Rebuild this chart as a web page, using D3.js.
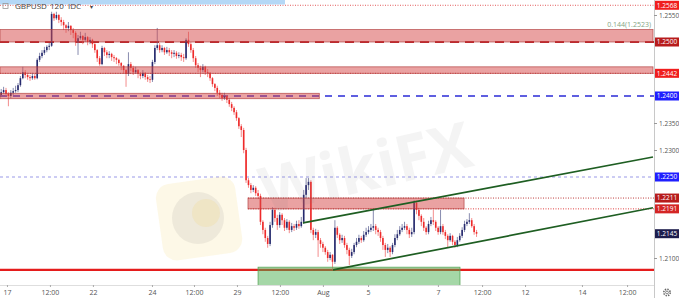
<!DOCTYPE html>
<html>
<head>
<meta charset="utf-8">
<script src="https://cdn.jsdelivr.net/npm/d3@7"></script>
<style>
  body { margin: 0; background: #fff; }
  svg { display: block; font-family: "Open Sans", "DejaVu Sans", sans-serif; }
</style>
</head>
<body>
<svg width="679" height="298"></svg>
<script>
// GBPUSD 120 (2h bars), prices
const firstOpen = 1.2402

const closes = [
  1.2407,1.2411,1.2404,1.2400,1.2406,1.2409,1.2411,1.2420,1.2433,1.2444,
  1.2439,1.2435,1.2433,1.2437,1.2433,1.2467,1.2474,1.2480,1.2485,1.2491,
  1.2493,1.2552,1.2544,1.2550,1.2541,1.2537,1.2531,1.2526,1.2530,1.2522,
  1.2517,1.2500,1.2507,1.2511,1.2504,1.2509,1.2500,1.2504,1.2496,1.2485,
  1.2470,1.2459,1.2489,1.2481,1.2476,1.2478,1.2472,1.2470,1.2467,1.2461,
  1.2456,1.2448,1.2441,1.2459,1.2452,1.2444,1.2448,1.2441,1.2437,1.2443,
  1.2435,1.2431,1.2430,1.2463,1.2489,1.2494,1.2485,1.2489,1.2481,1.2485,
  1.2481,1.2478,1.2480,1.2474,1.2476,1.2472,1.2470,1.2504,1.2496,1.2485,
  1.2470,1.2457,1.2452,1.2448,1.2454,1.2444,1.2443,1.2433,1.2422,1.2415,
  1.2406,1.2402,1.2396,1.2400,1.2393,1.2385,1.2378,1.2370,1.2359,1.2344,
  1.2337,1.2300,1.2244,1.2235,1.2226,1.2230,1.2220,1.2215,1.2167,1.2152,
  1.2137,1.2126,1.2161,1.2189,1.2174,1.2161,1.2180,1.2170,1.2156,1.2167,
  1.2152,1.2159,1.2156,1.2163,1.2159,1.2167,1.2217,1.2235,1.2241,1.2152,
  1.2143,1.2148,1.2133,1.2126,1.2119,1.2111,1.2100,1.2106,1.2093,1.2156,
  1.2143,1.2133,1.2137,1.2124,1.2115,1.2104,1.2111,1.2124,1.2130,1.2137,
  1.2133,1.2143,1.2148,1.2152,1.2156,1.2159,1.2152,1.2148,1.2137,1.2124,
  1.2115,1.2119,1.2111,1.2124,1.2137,1.2144,1.2152,1.2156,1.2159,1.2152,
  1.2144,1.2148,1.2202,1.2189,1.2178,1.2167,1.2156,1.2148,1.2163,1.2170,
  1.2167,1.2156,1.2148,1.2159,1.2148,1.2141,1.2133,1.2141,1.2130,1.2124,
  1.2133,1.2141,1.2152,1.2163,1.2167,1.2170,1.2159,1.2148,1.2145
]

const highs = [
  1.2413,1.2417,1.2415,1.2407,1.2411,1.2415,1.2419,1.2424,1.2437,1.2454,
  1.2448,1.2443,1.2439,1.2443,1.2441,1.2470,1.2480,1.2485,1.2491,1.2494,
  1.2498,1.2556,1.2554,1.2556,1.2552,1.2546,1.2541,1.2533,1.2537,1.2531,
  1.2526,1.2520,1.2513,1.2519,1.2513,1.2517,1.2511,1.2509,1.2506,1.2498,
  1.2487,1.2474,1.2493,1.2491,1.2485,1.2483,1.2480,1.2476,1.2472,1.2469,
  1.2463,1.2457,1.2450,1.2481,1.2463,1.2456,1.2454,1.2450,1.2444,1.2448,
  1.2444,1.2439,1.2437,1.2467,1.2494,1.2526,1.2498,1.2494,1.2491,1.2491,
  1.2489,1.2485,1.2485,1.2483,1.2481,1.2480,1.2478,1.2507,1.2519,1.2500,
  1.2489,1.2474,1.2461,1.2456,1.2459,1.2456,1.2450,1.2444,1.2435,1.2424,
  1.2419,1.2411,1.2406,1.2406,1.2402,1.2396,1.2389,1.2381,1.2374,1.2361,
  1.2348,1.2341,1.2304,1.2248,1.2239,1.2235,1.2233,1.2226,1.2219,1.2170,
  1.2156,1.2141,1.2167,1.2194,1.2193,1.2180,1.2185,1.2183,1.2174,1.2172,
  1.2170,1.2165,1.2163,1.2169,1.2170,1.2176,1.2226,1.2248,1.2248,1.2244,
  1.2156,1.2154,1.2152,1.2137,1.2130,1.2122,1.2115,1.2111,1.2107,1.2170,
  1.2159,1.2146,1.2143,1.2141,1.2128,1.2119,1.2117,1.2128,1.2137,1.2143,
  1.2141,1.2150,1.2156,1.2159,1.2163,1.2189,1.2163,1.2156,1.2152,1.2141,
  1.2128,1.2126,1.2122,1.2128,1.2144,1.2152,1.2159,1.2163,1.2167,1.2163,
  1.2156,1.2156,1.2207,1.2206,1.2193,1.2181,1.2174,1.2159,1.2169,1.2176,
  1.2189,1.2170,1.2159,1.2189,1.2163,1.2152,1.2144,1.2146,1.2143,1.2133,
  1.2139,1.2146,1.2157,1.2169,1.2172,1.2183,1.2174,1.2163,1.2152
]

const lows = [
  1.2398,1.2404,1.2400,1.2381,1.2396,1.2402,1.2406,1.2407,1.2417,1.2431,
  1.2433,1.2430,1.2428,1.2430,1.2430,1.2431,1.2463,1.2470,1.2476,1.2481,
  1.2485,1.2491,1.2539,1.2541,1.2535,1.2530,1.2522,1.2517,1.2520,1.2513,
  1.2507,1.2493,1.2476,1.2504,1.2496,1.2500,1.2494,1.2496,1.2489,1.2480,
  1.2463,1.2456,1.2457,1.2474,1.2470,1.2470,1.2465,1.2463,1.2459,1.2456,
  1.2448,1.2441,1.2417,1.2437,1.2446,1.2439,1.2441,1.2433,1.2431,1.2433,
  1.2430,1.2426,1.2424,1.2426,1.2459,1.2485,1.2480,1.2481,1.2476,1.2478,
  1.2474,1.2470,1.2472,1.2469,1.2470,1.2465,1.2463,1.2467,1.2491,1.2480,
  1.2463,1.2452,1.2444,1.2435,1.2444,1.2439,1.2435,1.2428,1.2417,1.2409,
  1.2400,1.2396,1.2391,1.2393,1.2387,1.2380,1.2372,1.2365,1.2354,1.2339,
  1.2324,1.2294,1.2239,1.2230,1.2220,1.2222,1.2215,1.2209,1.2161,1.2144,
  1.2130,1.2119,1.2122,1.2156,1.2167,1.2152,1.2156,1.2161,1.2150,1.2152,
  1.2146,1.2148,1.2150,1.2152,1.2154,1.2156,1.2163,1.2211,1.2226,1.2146,
  1.2133,1.2137,1.2102,1.2119,1.2111,1.2106,1.2093,1.2096,1.2078,1.2089,
  1.2137,1.2126,1.2128,1.2119,1.2107,1.2087,1.2100,1.2107,1.2120,1.2126,
  1.2128,1.2130,1.2139,1.2144,1.2148,1.2150,1.2144,1.2141,1.2130,1.2115,
  1.2102,1.2109,1.2102,1.2107,1.2120,1.2133,1.2141,1.2148,1.2152,1.2144,
  1.2137,1.2139,1.2144,1.2181,1.2170,1.2159,1.2150,1.2143,1.2144,1.2159,
  1.2161,1.2150,1.2143,1.2144,1.2143,1.2135,1.2119,1.2130,1.2124,1.2119,
  1.2120,1.2130,1.2137,1.2148,1.2159,1.2163,1.2156,1.2143,1.2139
]

// axis ticks still visible (the others sit under the price tags)
const priceTicks = [1.2100, 1.2300, 1.2350, 1.2550]
const timeLabels = ['17', '12:00', '22', '24', '12:00', '29', '12:00', 'Aug', '5', '7', '12:00', '12', '14', '12:00']
const timeTickBars = [2.9, 20.8, 38.7, 63.3, 80.8, 98.7, 116.6, 134.5, 153.3, 182.4, 200.8, 218.7, 242.4, 261.2]

// drawn levels (price) and zones [fromBar, toBar, top, bottom]
const levelPrices = [1.2568, 1.2500, 1.2442, 1.2400, 1.2250, 1.2211, 1.2191, 1.2078]
const levelFrom   = [0, 0, 0, 0, 0, 103.3, 103.3, 0]
const redZones = [
  [0, 272, 1.2523, 1.2500],
  [0, 272, 1.2454, 1.2442],
  [0, 133, 1.2405, 1.2395],
  [103.3, 193.3, 1.2211, 1.2191]
]
const greenZone = [107.5, 191.6, 1.2083, 1.2030]

// channel lines [bar, price] pairs
const channelUpper = [[126.2, 1.2165], [272, 1.2287]]
const channelLower = [[138.7, 1.2078], [272, 1.2193]]

// right-hand price tags
const tagPrices = [1.2568, 1.2500, 1.2442, 1.2400, 1.2250, 1.2211, 1.2191, 1.2145]

const svg = d3.select('svg')
const width = +svg.attr('width')
const height = +svg.attr('height')
const plotW = 654
const plotH = 285

const x = d3.scaleLinear().domain([0, 272]).range([0, 653])
const y = d3.scaleLinear().domain([1.21, 1.25]).range([258, 42])

svg.append('defs').append('clipPath').attr('id', 'plot')
  .append('rect').attr('width', plotW).attr('height', plotH)

const plot = svg.append('g').attr('clip-path', 'url(#plot)')

// horizontal levels drawn under the candles
const levelStyle = [
  { c: '#e35a5a', w: 1, d: '1,1.5' },
  { c: '#c0262b', w: 2, d: '9,6' },
  { c: '#e34040', w: 1, d: '1,1.5' },
  { c: '#2b2bd6', w: 1.3, d: '7,6' },
  { c: '#9a9ae8', w: 1.2, d: '3,3' },
  { c: '#bd3a3a', w: 1, d: '1,1.5' },
  { c: '#e04040', w: 1, d: '1,1.5' },
  { c: '#e51c1c', w: 2.2, d: null }
]

plot.selectAll('.level')
  .data(levelPrices)
  .join('line')
  .attr('x1', (d, i) => x(levelFrom[i]))
  .attr('x2', x(272) + 2)
  .attr('y1', d => y(d))
  .attr('y2', d => y(d))
  .attr('stroke', (d, i) => levelStyle[i].c)
  .attr('stroke-width', (d, i) => levelStyle[i].w)
  .attr('stroke-dasharray', (d, i) => levelStyle[i].d)

// candles
const upColor = '#262a6e'
const downColor = '#ee2a2a'
const bars = closes.map((c, i) => ({
  i, o: i ? closes[i - 1] : firstOpen, c, h: highs[i], l: lows[i]
}))

const candle = plot.append('g').selectAll('g')
  .data(bars)
  .join('g')

candle.append('line')
  .attr('x1', d => x(d.i + 0.5))
  .attr('x2', d => x(d.i + 0.5))
  .attr('y1', d => y(Math.max(d.h, d.o, d.c)))
  .attr('y2', d => y(Math.min(d.l, d.o, d.c)))
  .attr('stroke', d => d.c >= d.o ? '#6a6f9a' : '#f07070')
  .attr('stroke-width', 0.8)

candle.append('rect')
  .attr('x', d => x(d.i + 0.5) - 0.8)
  .attr('width', 1.6)
  .attr('y', d => y(Math.max(d.o, d.c)))
  .attr('height', d => Math.max(0.8, Math.abs(y(d.o) - y(d.c))))
  .attr('fill', d => d.c >= d.o ? upColor : downColor)

// zones on top, semi transparent
plot.selectAll('.zone')
  .data(redZones)
  .join('rect')
  .attr('x', d => x(d[0]))
  .attr('width', d => x(d[1]) - x(d[0]))
  .attr('y', d => y(d[2]))
  .attr('height', d => y(d[3]) - y(d[2]))
  .attr('fill', 'rgba(214, 70, 70, 0.5)')
  .attr('stroke', '#b03a3a')
  .attr('stroke-opacity', 0.8)
  .attr('stroke-width', 0.8)

plot.append('rect')
  .attr('x', x(greenZone[0]))
  .attr('width', x(greenZone[1]) - x(greenZone[0]))
  .attr('y', y(greenZone[2]))
  .attr('height', y(greenZone[3]) - y(greenZone[2]))
  .attr('fill', 'rgba(76, 175, 80, 0.5)')
  .attr('stroke', '#5aa55a')
  .attr('stroke-width', 0.8)

// channel
const line = d3.line().x(d => x(d[0])).y(d => y(d[1]))
plot.selectAll('.chan')
  .data([channelUpper, channelLower])
  .join('path')
  .attr('d', line)
  .attr('fill', 'none')
  .attr('stroke', '#1e5e22')
  .attr('stroke-width', 1.7)

// fib note
plot.append('text')
  .attr('x', 651)
  .attr('y', y(1.2523) - 2.5)
  .attr('text-anchor', 'end')
  .attr('font-size', 7)
  .attr('fill', '#84a684')
  .text('0.144(1.2523)')

// watermark
const wm = svg.append('g').attr('pointer-events', 'none')
wm.append('rect')
  .attr('x', 159).attr('y', 180).attr('width', 80).attr('height', 77).attr('rx', 14)
  .attr('transform', 'rotate(-8 199 218)')
  .attr('fill', '#f3d36a').attr('opacity', 0.16)
wm.append('circle')
  .attr('cx', 198).attr('cy', 218).attr('r', 26)
  .attr('fill', '#6b6b6b').attr('opacity', 0.1)
wm.append('circle')
  .attr('cx', 206).attr('cy', 213).attr('r', 14)
  .attr('fill', '#f3d36a').attr('opacity', 0.18)
wm.append('text')
  .attr('x', 266).attr('y', 214)
  .attr('transform', 'rotate(-13 266 214)')
  .attr('font-size', 64)
  .attr('font-weight', 'bold')
  .attr('font-family', 'Open Sans, sans-serif')
  .attr('textLength', 215)
  .attr('lengthAdjust', 'spacingAndGlyphs')
  .attr('fill', '#7a7a7a')
  .attr('opacity', 0.08)
  .text('WikiFX')

// right price axis
svg.append('line')
  .attr('x1', plotW + 0.5).attr('x2', plotW + 0.5)
  .attr('y1', 0).attr('y2', height)
  .attr('stroke', '#c8c8c8')

const yAxis = svg.append('g')
  .attr('transform', `translate(${plotW},0)`)
  .call(d3.axisRight(y).tickValues(priceTicks).tickSize(3).tickFormat(d3.format('.4f')))
yAxis.select('.domain').remove()
yAxis.selectAll('line').attr('stroke', '#999')
yAxis.selectAll('text')
  .attr('x', 5)
  .attr('font-size', 6.5)
  .attr('fill', '#555')
  .attr('font-family', 'Open Sans, sans-serif')

const tagColors = ['#f01e1e', '#b71c1c', '#f01e1e', '#1f1fff', '#1f1fff', '#b71c1c', '#d42525', '#1d1d4d']
const tags = svg.append('g').selectAll('g')
  .data(tagPrices)
  .join('g')
  .attr('transform', d => `translate(${plotW + 1},${y(d)})`)
tags.append('rect')
  .attr('x', 0).attr('y', -4.5).attr('width', 24).attr('height', 9)
  .attr('fill', (d, i) => tagColors[i])
tags.append('text')
  .attr('x', 12).attr('y', 2.4)
  .attr('text-anchor', 'middle')
  .attr('font-size', 6.5)
  .attr('fill', '#fff')
  .text(d => d3.format('.4f')(d))

// time axis
svg.append('line')
  .attr('x1', 0).attr('x2', plotW)
  .attr('y1', plotH + 0.5).attr('y2', plotH + 0.5)
  .attr('stroke', '#dedede')

const xAxis = svg.append('g')
  .attr('transform', `translate(0,${plotH})`)
  .call(d3.axisBottom(x).tickValues(timeTickBars).tickSize(2).tickFormat((d, i) => timeLabels[i]))
xAxis.select('.domain').remove()
xAxis.selectAll('line').attr('stroke', '#aaa')
xAxis.selectAll('text')
  .attr('y', 5)
  .attr('font-size', 7)
  .attr('fill', '#555')
  .attr('font-family', 'Open Sans, sans-serif')

// gear
svg.append('circle')
  .attr('cx', 667).attr('cy', 292.5).attr('r', 3.2)
  .attr('fill', 'none').attr('stroke', '#666').attr('stroke-width', 1.6)
  .attr('stroke-dasharray', '1.4,1.1')
svg.append('circle')
  .attr('cx', 667).attr('cy', 292.5).attr('r', 1.4)
  .attr('fill', 'none').attr('stroke', '#666').attr('stroke-width', 0.8)

// header
svg.append('rect')
  .attr('x', 0).attr('y', 0).attr('width', 285).attr('height', 4.5)
  .attr('fill', '#b5d8f6')
svg.append('rect')
  .attr('x', 3).attr('y', 3.5).attr('width', 5).attr('height', 5)
  .attr('fill', 'none').attr('stroke', '#999').attr('stroke-width', 0.8)
const head = svg.append('g')
  .attr('font-size', 8)
  .attr('fill', '#444')
head.append('text').attr('x', 15).attr('y', 9).text('GBPUSD')
head.append('text').attr('x', 50).attr('y', 9).text('120')
head.append('text').attr('x', 68).attr('y', 9).text('IDC')
head.append('text').attr('x', 90).attr('y', 9).attr('font-size', 6).text('▾')
</script>
</body>
</html>
